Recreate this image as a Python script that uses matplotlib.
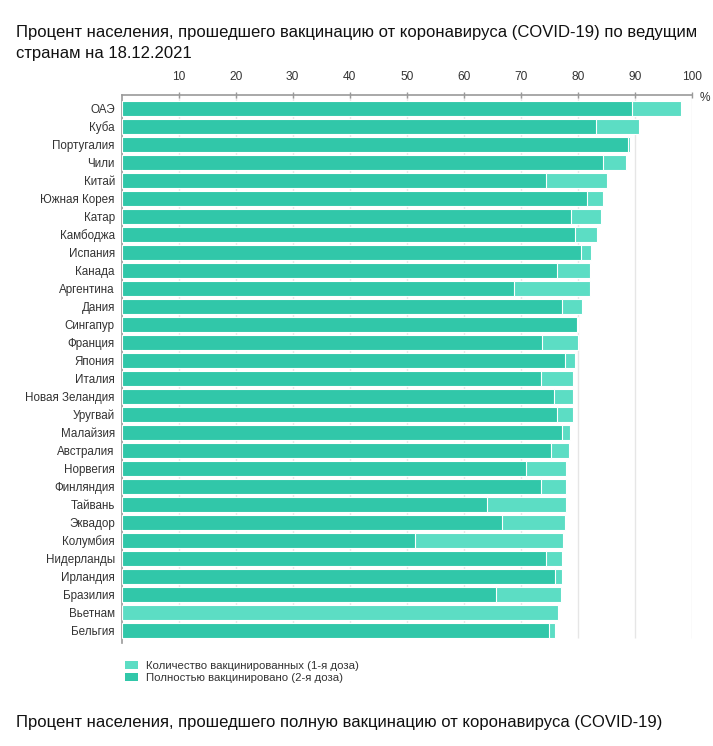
import matplotlib
matplotlib.use("Agg")
import matplotlib.pyplot as plt
import numpy as np

countries = ["ОАЭ", "Куба", "Португалия", "Чили", "Китай", "Южная Корея", "Катар",
             "Камбоджа", "Испания", "Канада", "Аргентина", "Дания", "Сингапур",
             "Франция", "Япония", "Италия", "Новая Зеландия", "Уругвай", "Малайзия",
             "Австралия", "Норвегия", "Финляндия", "Тайвань", "Эквадор", "Колумбия",
             "Нидерланды", "Ирландия", "Бразилия", "Вьетнам", "Бельгия"]
first_dose = [98.2, 90.7, 89.1, 88.4, 85.1, 84.4, 84.0, 83.3, 82.4, 82.1, 82.1, 80.7,
              80.0, 80.0, 79.5, 79.2, 79.2, 79.1, 78.6, 78.4, 77.9, 77.9, 77.9, 77.7,
              77.5, 77.3, 77.3, 77.0, 76.6, 76.1]
full_dose = [89.5, 83.2, 88.8, 84.4, 74.5, 81.6, 78.8, 79.5, 80.5, 76.3, 68.8, 77.3,
             79.9, 73.8, 77.7, 73.5, 75.8, 76.3, 77.3, 75.3, 70.9, 73.5, 64.0, 66.8,
             51.4, 74.4, 76.0, 65.6, 0.0, 75.0]
xticks = [10, 20, 30, 40, 50, 60, 70, 80, 90, 100]
legend_labels = ["Количество вакцинированных (1-я доза)", "Полностью вакцинировано (2-я доза)"]
title = "Процент населения, прошедшего вакцинацию от коронавируса (COVID-19) по ведущим\nстранам на 18.12.2021"
subtitle = "Процент населения, прошедшего полную вакцинацию от коронавируса (COVID-19)"

plt.rcParams['font.family'] = ['Liberation Sans', 'DejaVu Sans']

W, H = 713, 746
fig = plt.figure(figsize=(W / 100, H / 100), dpi=100)

ax_left, ax_right, ax_top, ax_bottom = 121.7, 691.7, 95, 643
ax = fig.add_axes([ax_left / W, 1 - ax_bottom / H, (ax_right - ax_left) / W, (ax_bottom - ax_top) / H])

LIGHT = "#5CDDC4"
DARK = "#31C7A9"
n = len(countries)
y = np.arange(n)
bh = 0.82

ax.vlines(xticks, -0.73, n - 1 + bh / 2, colors="#e6e6e6", linewidth=1, zorder=0)
b1 = ax.barh(y, first_dose, height=bh, color=LIGHT, edgecolor="white", linewidth=0.8, zorder=2)
b2 = ax.barh(y, full_dose, height=bh, color=DARK, edgecolor="white", linewidth=0.8, zorder=3)

ax.set_xlim(0, 100)
ax.set_ylim(n - 1 + 0.71, -0.73)
ax.set_yticks(y)
ax.set_yticklabels(countries, fontsize=8.4, color="#333333")
ax.tick_params(axis="y", length=0, pad=5)
ax.xaxis.tick_top()
ax.set_xticks(xticks)
ax.set_xticklabels([str(t) for t in xticks], fontsize=8.6, color="#333333")
ax.tick_params(axis="x", direction="inout", length=5, width=1, color="#999999", pad=6.5)

for s in ["right", "bottom"]:
    ax.spines[s].set_visible(False)
ax.spines["top"].set_color("#999999")
ax.spines["left"].set_color("#999999")
ax.spines["top"].set_linewidth(1.2)
ax.spines["left"].set_linewidth(1.2)

fig.text(700 / W, 1 - 98 / H, "%", fontsize=8.6, color="#333333", ha="left", va="center")

fig.text(16 / W, 1 - 43 / H, title, fontsize=12.0, color="#111111", ha="left", va="center",
         linespacing=1.42)

leg = fig.legend([b1, b2], legend_labels, loc="upper left",
                 bbox_to_anchor=(125 / W, 1 - 661 / H), frameon=False, fontsize=8.2,
                 handlelength=1.15, handleheight=0.7, handletextpad=0.65, labelspacing=0.2,
                 borderaxespad=0, borderpad=0)
for t in leg.get_texts():
    t.set_color("#333333")
for h in leg.legend_handles:
    h.set_edgecolor("none")

fig.text(16 / W, 1 - 722 / H, subtitle, fontsize=12.0, color="#111111", ha="left", va="center")

fig.savefig("out.png", dpi=100)
